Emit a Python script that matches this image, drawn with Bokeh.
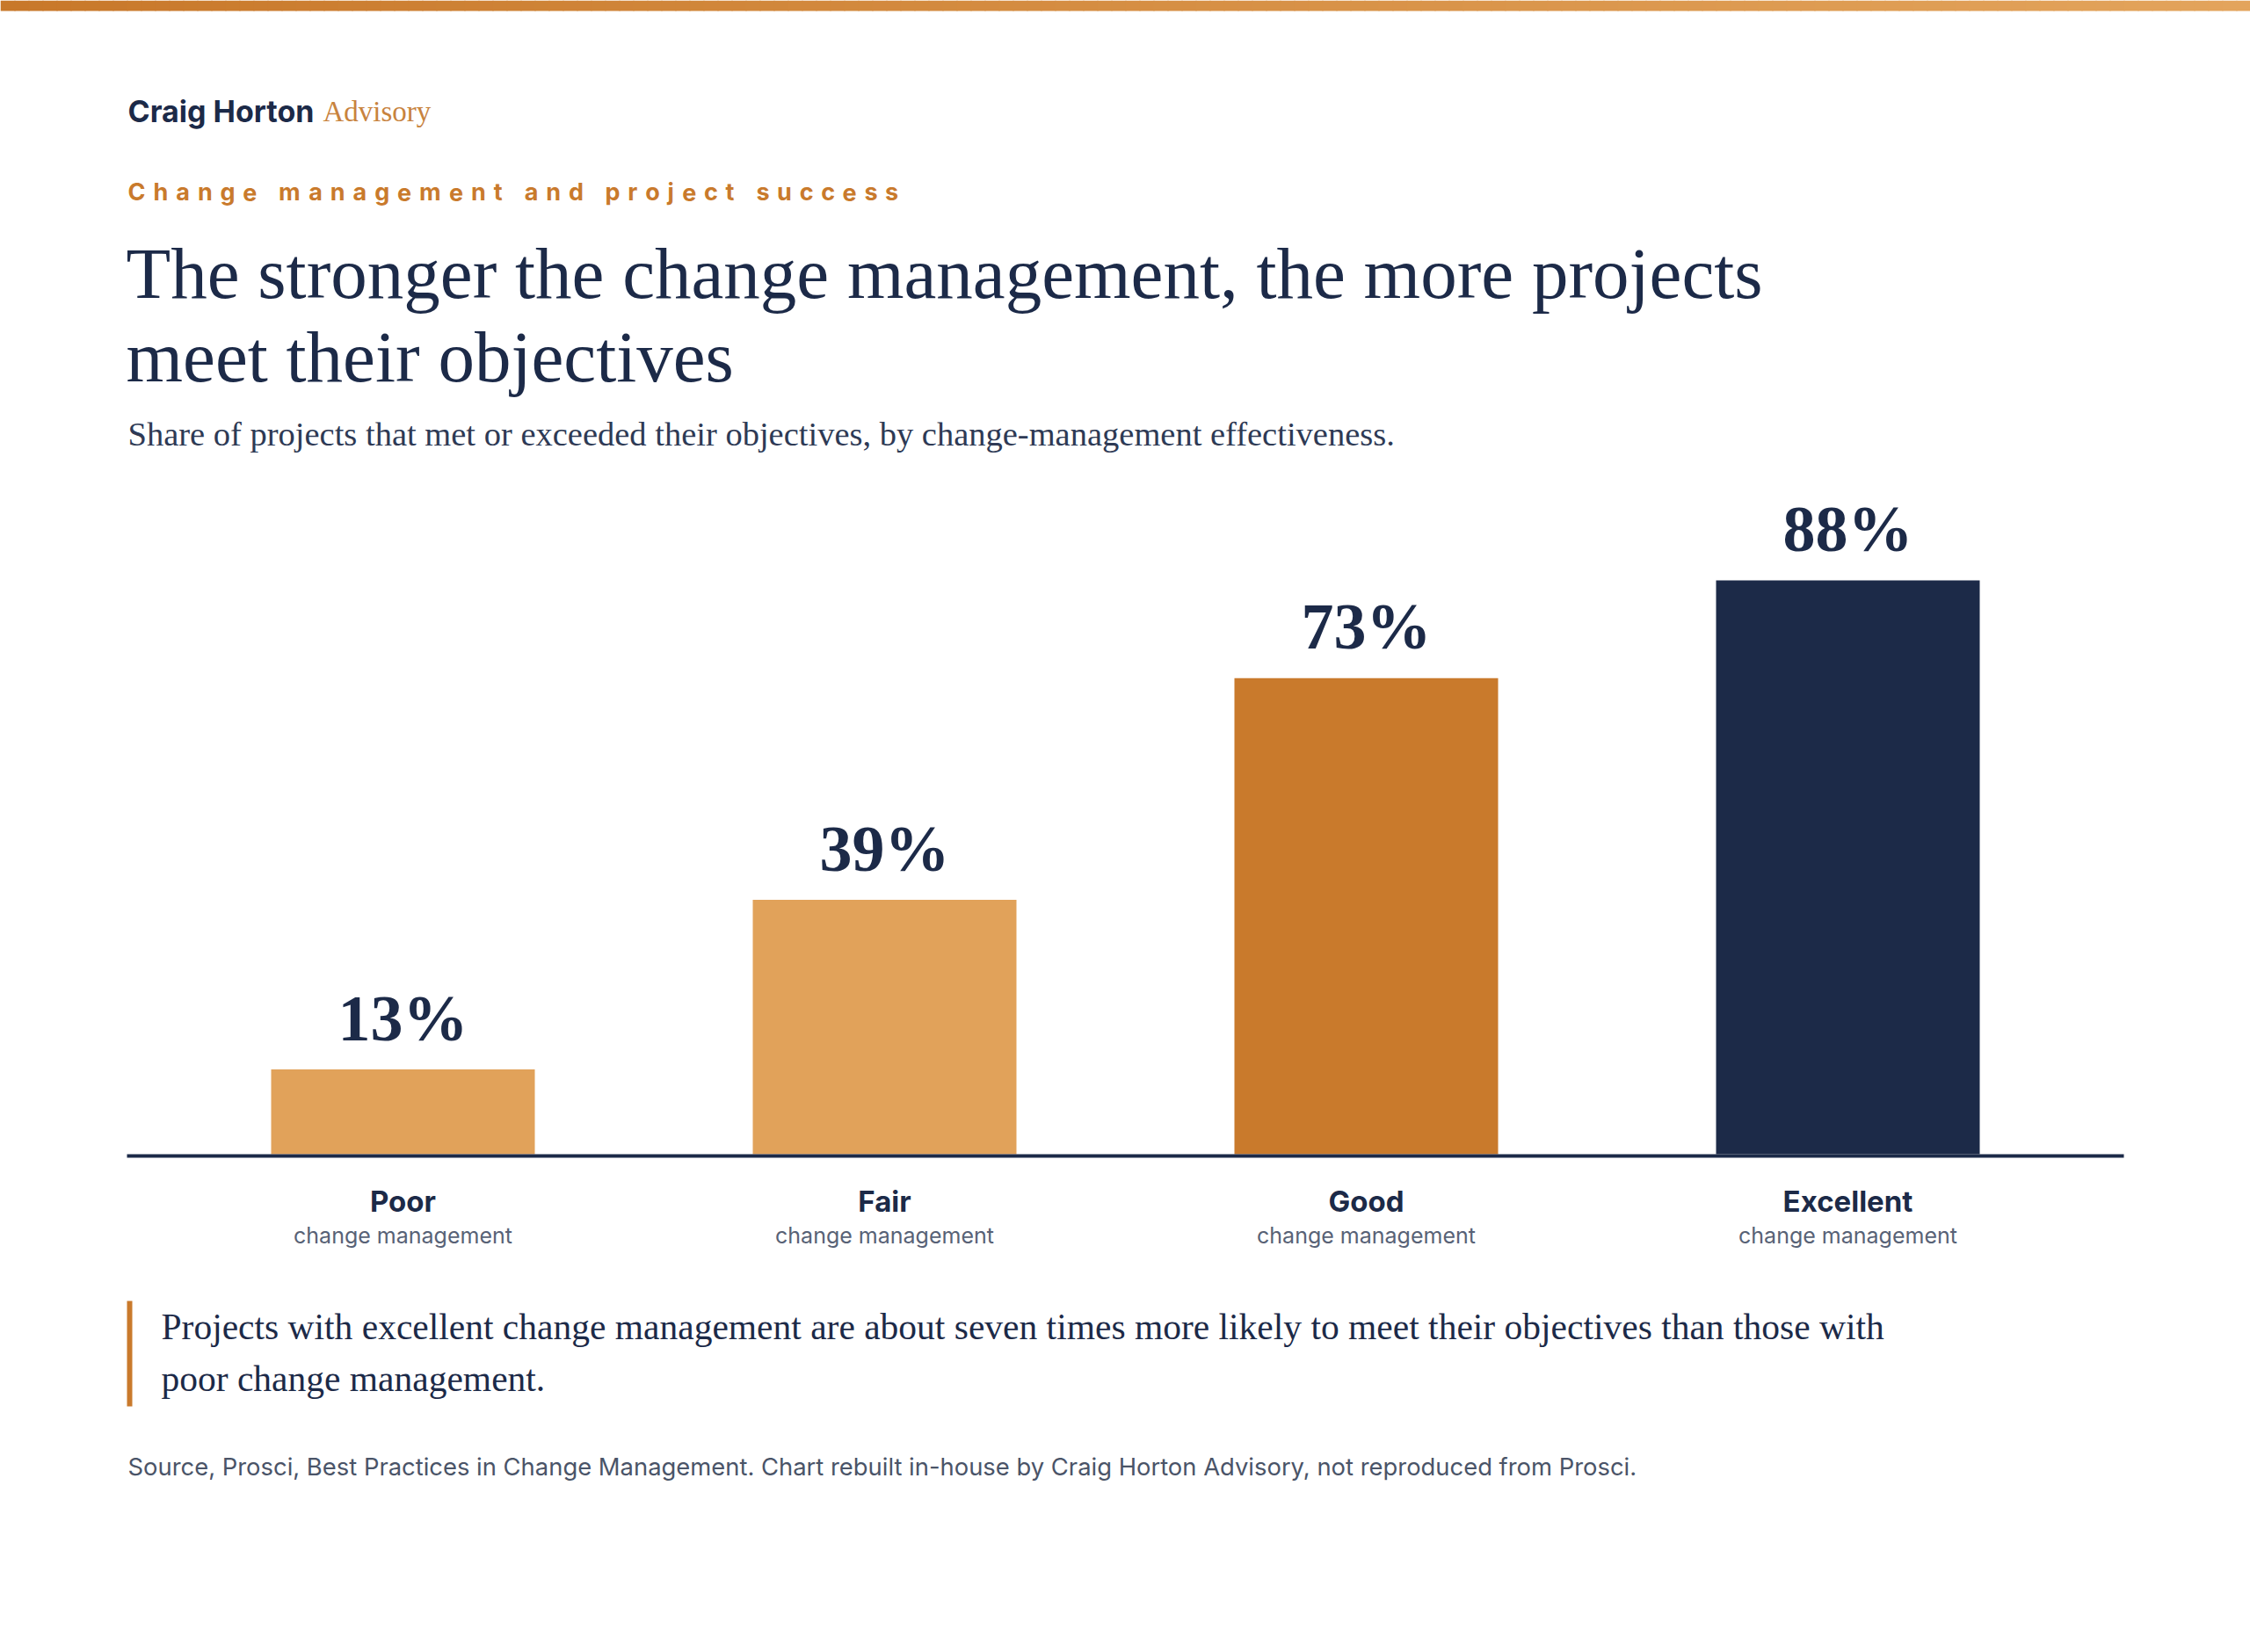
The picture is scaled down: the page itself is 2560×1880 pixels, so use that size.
from bokeh.plotting import figure
from bokeh.models import Range1d
from bokeh.core.properties import value
from bokeh.embed import file_html
from bokeh.resources import INLINE

# ---- data -------------------------------------------------------------
categories = ["Poor", "Fair", "Good", "Excellent"]
category_sub = ["change management"] * 4
success_pct = [13, 39, 73, 88]
pct_labels = [f"{v}%" for v in success_pct]
bar_colors = ["#E1A25A", "#E1A25A", "#C97A2C", "#1C2A48"]

brand = "Craig Horton"
brand_suffix = "Advisory"
eyebrow = "Change management and project success"
title_lines = ["The stronger the change management, the more projects",
               "meet their objectives"]
subtitle = "Share of projects that met or exceeded their objectives, by change-management effectiveness."
callout_lines = ["Projects with excellent change management are about seven times more likely to meet their objectives than those with",
                 "poor change management."]
source = "Source, Prosci, Best Practices in Change Management. Chart rebuilt in-house by Craig Horton Advisory, not reproduced from Prosci."

NAVY = "#1C2A48"
ORANGE = "#C97A2C"
GREY = "#586276"
SERIF = "Liberation Serif"
SANS = "Inter"

W, H = 2560, 1880

# the SVG text anchor sits a little below the alphabetic baseline; lift by a share of the size
DROP = 0.33


def base(y, size):
    return y - DROP * size


# page coordinates: x to the right, y downward (pixels)
p = figure(width=W, height=H, output_backend="svg", toolbar_location=None,
           x_range=Range1d(0, W), y_range=Range1d(H, 0),
           x_axis_location=None, y_axis_location=None,
           min_border=0, outline_line_color=None, background_fill_color="white",
           border_fill_color="white")
p.grid.visible = False

# chart scales: category index across, percent up
baseline_px = 1313
px_per_pct = 7.42
first_center_px, band_px = 458, 548
p.extra_x_ranges = {"cat": Range1d(-first_center_px / band_px, (W - first_center_px) / band_px)}
p.extra_y_ranges = {"pct": Range1d(-(H - baseline_px) / px_per_pct, baseline_px / px_per_pct)}

# ---- top accent strip (gradient) --------------------------------------
def lerp_hex(c0, c1, t):
    a = [int(c0[i:i + 2], 16) for i in (1, 3, 5)]
    b = [int(c1[i:i + 2], 16) for i in (1, 3, 5)]
    return "#%02x%02x%02x" % tuple(round(a[k] + (b[k] - a[k]) * t) for k in range(3))

n_strip = 160
sx = [W * i / n_strip for i in range(n_strip + 1)]
p.quad(left=sx[:-1], right=[x + 1 for x in sx[1:]], top=[0] * n_strip, bottom=[12] * n_strip,
       fill_color=[lerp_hex("#C8782A", "#E3A45C", (i + 0.5) / n_strip) for i in range(n_strip)],
       line_color=None)

# ---- header -------------------------------------------------------------
p.text(x=[145], y=[base(137, 34)], text=[brand], text_font=value(SANS), text_font_size=value("34px"),
       text_font_style="bold", text_color=NAVY, text_baseline="alphabetic")
p.text(x=[367], y=[base(137, 33)], text=[brand_suffix], text_font=value(SERIF), text_font_size=value("33px"),
       text_color="#C8833E", text_baseline="alphabetic")

# eyebrow, tracked out letter by letter
adv = {"C": .74, "h": .62, "a": .58, "n": .62, "g": .62, "e": .59, "m": .93, "t": .38,
       "d": .62, "p": .62, "r": .41, "o": .60, "j": .28, "c": .57, "s": .54, "u": .62, " ": .25}
eb_size, eb_track = 27, 9.0
ex, xs, chars = 145.0, [], []
for ch in eyebrow:
    if ch != " ":
        xs.append(ex)
        chars.append(ch)
    ex += adv.get(ch, .6) * eb_size + eb_track
p.text(x=xs, y=[base(227, eb_size)] * len(xs), text=chars, text_font=value(SANS),
       text_font_size=value(f"{eb_size}px"), text_font_style="bold", text_color=ORANGE,
       text_baseline="alphabetic")

# ---- title & subtitle ---------------------------------------------------
p.text(x=[143, 143], y=[base(338, 83), base(433, 83)], text=title_lines, text_font=value(SERIF),
       text_font_size=value("83px"), text_color=NAVY, text_baseline="alphabetic")
p.text(x=[145], y=[base(506, 38.5)], text=[subtitle], text_font=value(SERIF), text_font_size=value("38.5px"),
       text_color="#2E3A55", text_baseline="alphabetic")

# ---- bars ---------------------------------------------------------------
idx = list(range(len(categories)))
p.vbar(x=idx, top=success_pct, bottom=0, width=300 / band_px, fill_color=bar_colors, line_color=None,
       x_range_name="cat", y_range_name="pct")
p.text(x=idx, y=success_pct, text=pct_labels, y_offset=-34 - DROP * 74, text_font=value(SERIF),
       text_font_size=value("74px"), text_font_style="bold", text_color=NAVY,
       text_align="center", text_baseline="alphabetic", x_range_name="cat", y_range_name="pct")

# baseline rule
p.segment(x0=[144], x1=[2416], y0=[1315], y1=[1315], line_color=NAVY, line_width=4)

# category labels
p.text(x=idx, y=[base(1377, 33)] * 4, text=categories, text_font=value(SANS), text_font_size=value("33px"),
       text_font_style="bold", text_color=NAVY, text_align="center", text_baseline="alphabetic",
       x_range_name="cat")
p.text(x=idx, y=[base(1414, 25)] * 4, text=category_sub, text_font=value(SANS), text_font_size=value("25px"),
       text_color=GREY, text_align="center", text_baseline="alphabetic", x_range_name="cat")

# ---- callout --------------------------------------------------------------
p.quad(left=[144], right=[150], top=[1480], bottom=[1600], fill_color=ORANGE, line_color=None)
p.text(x=[183, 183], y=[base(1523, 41.5), base(1582, 41.5)], text=callout_lines, text_font=value(SERIF),
       text_font_size=value("41.5px"), text_color=NAVY, text_baseline="alphabetic")

# ---- source -------------------------------------------------------------
p.text(x=[145], y=[base(1678, 27.4)], text=[source], text_font=value(SANS), text_font_size=value("27.4px"),
       text_color="#4A5468", text_baseline="alphabetic")

open("out.html", "w").write(file_html(p, INLINE))
